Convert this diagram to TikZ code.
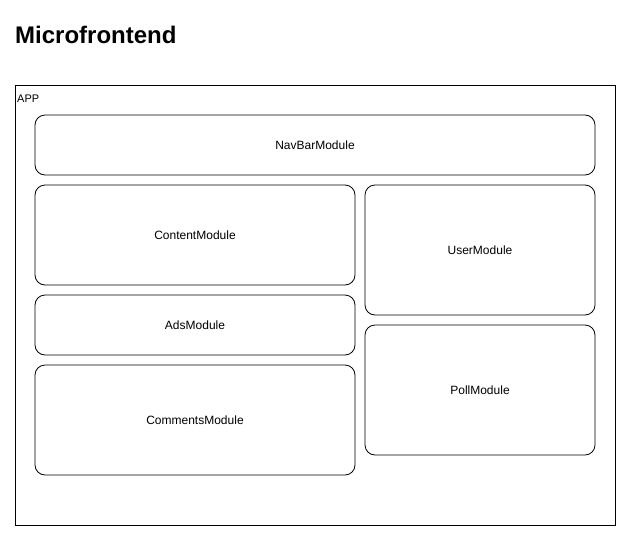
\documentclass[tikz,border=0pt]{standalone}
\usepackage{fontspec}
\setmainfont{Liberation Sans}
\begin{document}
\begin{tikzpicture}[x=1pt,y=-1pt,
  mod/.style={draw=black, line width=0.8pt, rounded corners=10pt, fill=white},
  lbl/.style={font=\fontsize{12}{14}\selectfont, inner sep=0pt}]
\useasboundingbox[fill=white] (0,0) rectangle (631,541);
\node[anchor=base west, inner sep=0pt, font=\fontsize{24}{28}\selectfont\bfseries] (title) at (15,43) {Microfrontend};
\draw[line width=0.8pt] (15,85) rectangle (615,525);
\node[anchor=base west, inner sep=0pt, font=\fontsize{11}{13}\selectfont] (app) at (17,102.5) {APP};
\draw[mod] (35,115) rectangle (595,175);
\node[lbl] (nav) at (315,145) {NavBarModule};
\draw[mod] (35,185) rectangle (355,285);
\node[lbl] (content) at (195,235) {ContentModule};
\draw[mod] (35,295) rectangle (355,355);
\node[lbl] (ads) at (195,325) {AdsModule};
\draw[mod] (35,365) rectangle (355,475);
\node[lbl] (comments) at (195,420) {CommentsModule};
\draw[mod] (365,185) rectangle (595,315);
\node[lbl] (user) at (480,250) {UserModule};
\draw[mod] (365,325) rectangle (595,455);
\node[lbl] (poll) at (480,390) {PollModule};
\end{tikzpicture}
\end{document}
